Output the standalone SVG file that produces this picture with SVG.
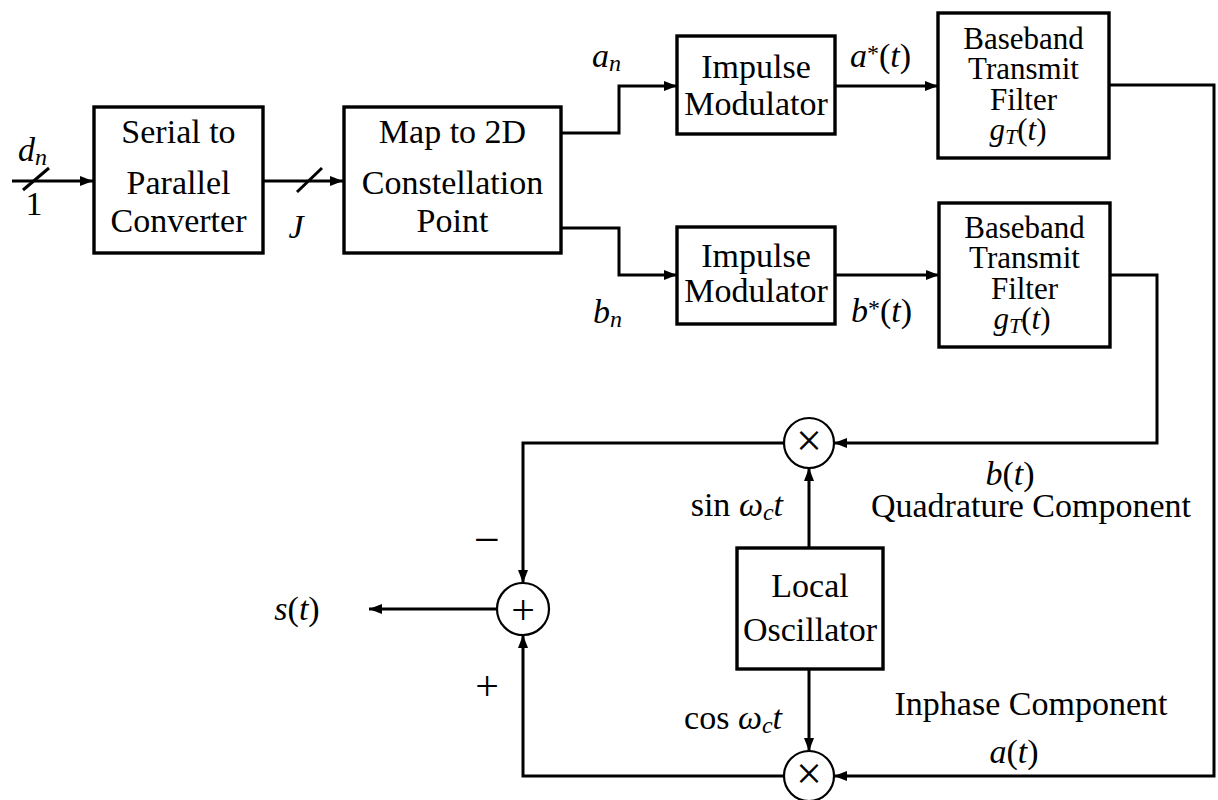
<svg xmlns="http://www.w3.org/2000/svg" width="1218" height="800" viewBox="0 0 1218 800">
  <style>
    .box { fill: #fff; stroke: #000; stroke-width: 3.4; }
    .ring { fill: #fff; stroke: #000; stroke-width: 2.2; }
    .wire { fill: none; stroke: #000; stroke-width: 3; }
    .t { font-family: 'Liberation Serif', 'Times New Roman', serif; font-size: 34px; fill: #000; }
    .f { font-size: 31px; }
    .op { font-size: 46px; }
    .pl { font-size: 42px; }
    .c { text-anchor: middle; }
    .e { text-anchor: end; }
    .i { font-style: italic; }
    .s { font-size: 24px; font-style: italic; }
    .fs { font-size: 22px; font-style: italic; }
    .sup { font-size: 24px; }
  </style>
  <defs>
    <marker id="arrow" viewBox="0 0 13 10" refX="13" refY="5" markerWidth="13" markerHeight="10" markerUnits="userSpaceOnUse" orient="auto">
      <path d="M0,0 L13,5 L0,10 z" fill="#000"/>
    </marker>
  </defs>

  <!-- signal paths -->
  <g id="connectors">
    <path class="wire" d="M12,181 H93" marker-end="url(#arrow)"/>
    <path class="wire" d="M23,190 L49,168"/>
    <path class="wire" d="M263,181 H343" marker-end="url(#arrow)"/>
    <path class="wire" d="M297,192 L322,168"/>
    <path class="wire" d="M561,133 H619 V86 H677" marker-end="url(#arrow)"/>
    <path class="wire" d="M561,228 H619 V275 H677" marker-end="url(#arrow)"/>
    <path class="wire" d="M835,86 H938" marker-end="url(#arrow)"/>
    <path class="wire" d="M835,275 H939" marker-end="url(#arrow)"/>
    <path class="wire" d="M1109,85 H1214 V776 H834" marker-end="url(#arrow)"/>
    <path class="wire" d="M1110,275 H1157 V443 H834" marker-end="url(#arrow)"/>
    <path class="wire" d="M784,443 H523 V583" marker-end="url(#arrow)"/>
    <path class="wire" d="M784,776 H523 V635" marker-end="url(#arrow)"/>
    <path class="wire" d="M809,548 V468" marker-end="url(#arrow)"/>
    <path class="wire" d="M809,669 V751" marker-end="url(#arrow)"/>
    <path class="wire" d="M497,609 H369" marker-end="url(#arrow)"/>
  </g>

  <g id="serial-to-parallel">
    <rect class="box" x="94" y="107" width="169" height="146"/>
    <text class="t c" x="178.5" y="143">Serial to</text>
    <text class="t c" x="178.5" y="194">Parallel</text>
    <text class="t c" x="178.5" y="232">Converter</text>
  </g>

  <g id="constellation-map">
    <rect class="box" x="344" y="107" width="217" height="146"/>
    <text class="t c" x="452.5" y="143">Map to 2D</text>
    <text class="t c" x="452.5" y="194">Constellation</text>
    <text class="t c" x="452.5" y="232">Point</text>
  </g>

  <g id="impulse-modulator-a">
    <rect class="box" x="677" y="36" width="158" height="98"/>
    <text class="t c" x="756" y="78">Impulse</text>
    <text class="t c" x="756" y="115">Modulator</text>
  </g>

  <g id="impulse-modulator-b">
    <rect class="box" x="677" y="227" width="158" height="97"/>
    <text class="t c" x="756" y="267">Impulse</text>
    <text class="t c" x="756" y="302">Modulator</text>
  </g>

  <g id="transmit-filter-a">
    <rect class="box" x="938" y="13" width="171" height="145"/>
    <text class="t f c" x="1023.5" y="49">Baseband</text>
    <text class="t f c" x="1023.5" y="79">Transmit</text>
    <text class="t f c" x="1023.5" y="110">Filter</text>
    <text class="t f c" x="1018" y="140"><tspan class="i">g</tspan><tspan class="fs" dy="4">T</tspan><tspan dy="-4">(</tspan><tspan class="i">t</tspan>)</text>
  </g>

  <g id="transmit-filter-b">
    <rect class="box" x="939" y="203" width="171" height="144"/>
    <text class="t f c" x="1024.5" y="238">Baseband</text>
    <text class="t f c" x="1024.5" y="268">Transmit</text>
    <text class="t f c" x="1024.5" y="299">Filter</text>
    <text class="t f c" x="1022" y="329"><tspan class="i">g</tspan><tspan class="fs" dy="4">T</tspan><tspan dy="-4">(</tspan><tspan class="i">t</tspan>)</text>
  </g>

  <g id="local-oscillator">
    <rect class="box" x="737" y="548" width="146" height="121"/>
    <text class="t c" x="810" y="597">Local</text>
    <text class="t c" x="810" y="641">Oscillator</text>
  </g>

  <g id="mixer-quadrature">
    <circle class="ring" cx="809" cy="443" r="25"/>
    <text class="t op c" x="809" y="456">×</text>
  </g>

  <g id="mixer-inphase">
    <circle class="ring" cx="809" cy="776" r="25"/>
    <text class="t op c" x="809" y="789">×</text>
  </g>

  <g id="summer">
    <circle class="ring" cx="523" cy="609" r="26"/>
    <text class="t pl c" x="523" y="624">+</text>
  </g>

  <!-- signal labels -->
  <g id="labels">
    <text class="t" x="18" y="161"><tspan class="i">d</tspan><tspan class="s" dy="4">n</tspan></text>
    <text class="t c" x="34" y="215">1</text>
    <text class="t i c" x="296" y="238">J</text>
    <text class="t" x="592" y="67"><tspan class="i">a</tspan><tspan class="s" dy="4">n</tspan></text>
    <text class="t" x="593" y="323"><tspan class="i">b</tspan><tspan class="s" dy="4">n</tspan></text>
    <text class="t" x="850" y="67"><tspan class="i">a</tspan><tspan class="sup" dy="-6">*</tspan><tspan dy="6">(</tspan><tspan class="i">t</tspan>)</text>
    <text class="t" x="851" y="322"><tspan class="i">b</tspan><tspan class="sup" dy="-6">*</tspan><tspan dy="6">(</tspan><tspan class="i">t</tspan>)</text>
    <text class="t c" x="1010" y="485"><tspan class="i">b</tspan>(<tspan class="i">t</tspan>)</text>
    <text class="t c" x="1031" y="517">Quadrature Component</text>
    <text class="t e" x="783" y="516">sin <tspan class="i">ω</tspan><tspan class="s" dy="4">c</tspan><tspan class="i" dy="-4">t</tspan></text>
    <text class="t c" x="1031" y="715">Inphase Component</text>
    <text class="t e" x="782" y="729">cos <tspan class="i">ω</tspan><tspan class="s" dy="4">c</tspan><tspan class="i" dy="-4">t</tspan></text>
    <text class="t c" x="1014" y="763"><tspan class="i">a</tspan>(<tspan class="i">t</tspan>)</text>
    <text class="t c" x="297" y="620"><tspan class="i">s</tspan>(<tspan class="i">t</tspan>)</text>
    <text class="t op c" x="487" y="555">−</text>
    <text class="t pl c" x="487" y="700">+</text>
  </g>
</svg>
